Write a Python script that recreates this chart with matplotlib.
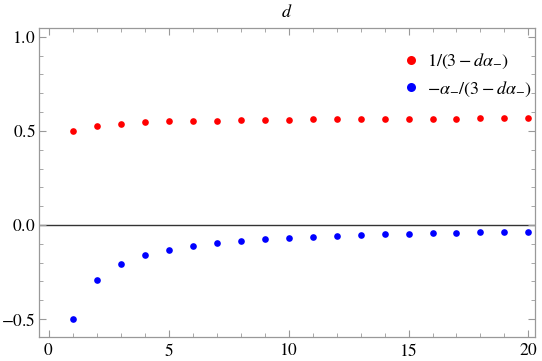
import matplotlib
matplotlib.use("Agg")
import matplotlib.pyplot as plt
from matplotlib.ticker import MultipleLocator, FixedLocator

plt.rcParams['font.family'] = ['Liberation Serif', 'DejaVu Serif']
plt.rcParams['mathtext.fontset'] = 'stix'

d_values = list(range(1, 21))
red_values = [0.500, 0.526, 0.538, 0.545, 0.550, 0.553, 0.555, 0.557, 0.559, 0.560,
              0.561, 0.562, 0.563, 0.563, 0.564, 0.565, 0.565, 0.566, 0.566, 0.567]
blue_values = [-0.500, -0.290, -0.205, -0.160, -0.131, -0.111, -0.096, -0.085, -0.076, -0.069,
               -0.063, -0.058, -0.054, -0.050, -0.047, -0.044, -0.042, -0.040, -0.038, -0.036]
x_ticks = [0, 5, 10, 15, 20]
x_tick_labels = [r'$0$', r'$5$', r'$10$', r'$15$', r'$20$']
y_ticks = [-0.5, 0.0, 0.5, 1.0]
y_tick_labels = [r'$-0.5$', r'$0.0$', r'$0.5$', r'$1.0$']
red_label = r'$1/(3-d\alpha_{-})$'
blue_label = r'$-\alpha_{-}/(3-d\alpha_{-})$'
title_text = r'$d$'

fig = plt.figure(figsize=(5.42, 3.61), dpi=100)
ax = fig.add_axes([0.072, 0.0656, 0.915, 0.856])

ax.axhline(0, color='#333333', lw=1.0, zorder=1)
ax.plot(d_values, red_values, 'o', color='#ff0000', ms=4.8, mec='none', label=red_label, zorder=3)
ax.plot(d_values, blue_values, 'o', color='#0000ff', ms=4.8, mec='none', label=blue_label, zorder=3)

ax.set_xlim(-0.4, 20.27)
ax.set_ylim(-0.597, 1.045)

ax.xaxis.set_major_locator(FixedLocator(x_ticks))
ax.xaxis.set_minor_locator(MultipleLocator(1))
ax.yaxis.set_major_locator(FixedLocator(y_ticks))
ax.yaxis.set_minor_locator(MultipleLocator(0.1))
ax.set_xticklabels(x_tick_labels)
ax.set_yticklabels(y_tick_labels)

for s in ax.spines.values():
    s.set_color('#999999')
    s.set_linewidth(0.9)
ax.tick_params(which='both', direction='in', top=True, right=True, color='#999999',
               labelsize=12.5, labelcolor='black')
ax.tick_params(which='major', length=5, width=0.8)
ax.tick_params(axis='y', which='major', pad=2.5)
ax.tick_params(axis='x', which='major', pad=4)
ax.tick_params(which='minor', length=3, width=0.6)

ax.set_title(title_text, fontsize=13, pad=8)

leg = ax.legend(loc='upper left', bbox_to_anchor=(0.695, 0.975), frameon=False,
                fontsize=13, handletextpad=0.3, markerscale=1.35, labelspacing=0.45,
                handlelength=1.2)

fig.savefig('out.png', dpi=100)
